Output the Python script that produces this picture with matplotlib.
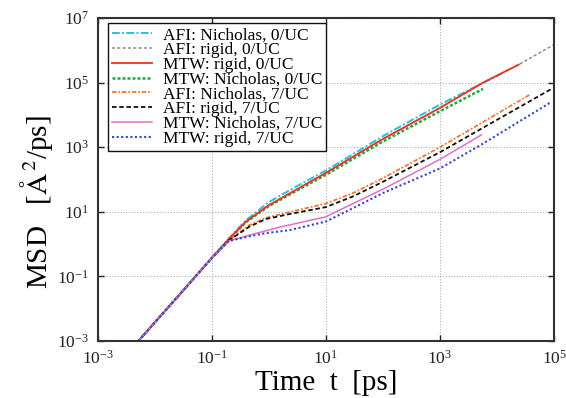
import matplotlib
matplotlib.use("Agg")
import matplotlib.pyplot as plt
from matplotlib.ticker import NullLocator

plt.rcParams['font.family'] = ['Liberation Serif', 'DejaVu Serif']
plt.rcParams['mathtext.fontset'] = 'stix'

# ---- data (time in ps, MSD) ----
t_afi_nich_0 = [0.004, 0.01, 0.03, 0.1, 0.2, 0.4, 1, 3, 10, 100, 1000, 12000]
m_afi_nich_0 = [6e-4, 3.7e-3, 0.033, 0.37, 1.5, 5.5, 20, 60, 190, 2200, 2.1e4, 1.9e5]

t_afi_rigid_0 = [0.004, 0.01, 0.03, 0.1, 0.2, 0.4, 1, 3, 10, 100, 1000, 5700, 24000, 106000]
m_afi_rigid_0 = [6e-4, 3.7e-3, 0.033, 0.37, 1.45, 5, 16, 48, 160, 1800, 1.65e4, 1.0e5, 3.6e5, 1.6e6]

t_mtw_rigid_0 = [0.004, 0.01, 0.03, 0.1, 0.2, 0.4, 1, 3, 10, 100, 1000, 5700, 24000]
m_mtw_rigid_0 = [6e-4, 3.7e-3, 0.033, 0.37, 1.45, 5, 16, 48, 160, 1800, 1.65e4, 1.0e5, 3.6e5]

t_mtw_nich_0 = [0.004, 0.01, 0.03, 0.1, 0.2, 0.4, 1, 3, 10, 100, 1000, 5700]
m_mtw_nich_0 = [6e-4, 3.7e-3, 0.033, 0.37, 1.4, 4.8, 15, 44, 140, 1500, 1.3e4, 6.4e4]

t_afi_nich_7 = [0.004, 0.01, 0.03, 0.1, 0.2, 0.46, 0.9, 2.3, 10, 30, 100, 1000, 39000]
m_afi_nich_7 = [6e-4, 3.7e-3, 0.033, 0.37, 1.3, 3.9, 6.5, 9.8, 18, 38, 110, 1000, 4.4e4]

t_afi_rigid_7 = [0.004, 0.01, 0.03, 0.1, 0.2, 0.46, 0.9, 2.3, 10, 30, 100, 1000, 89000]
m_afi_rigid_7 = [6e-4, 3.7e-3, 0.033, 0.37, 1.3, 3.5, 6.0, 8.5, 14, 30, 85, 700, 6.3e4]

t_mtw_nich_7 = [0.004, 0.01, 0.03, 0.1, 0.2, 0.46, 1.5, 10, 30, 100, 1000, 5300]
m_mtw_nich_7 = [6e-4, 3.7e-3, 0.033, 0.37, 1.25, 1.9, 3.3, 7, 18, 50, 420, 2.4e3]

t_mtw_rigid_7 = [0.004, 0.01, 0.03, 0.1, 0.2, 0.46, 0.9, 2.3, 10, 30, 100, 1000, 5300, 89000]
m_mtw_rigid_7 = [6e-4, 3.7e-3, 0.033, 0.37, 1.25, 1.75, 2.2, 2.7, 5, 13, 38, 220, 1.2e3, 2.5e4]

labels = ["AFI: Nicholas, 0/UC", "AFI: rigid, 0/UC", "MTW: rigid, 0/UC",
          "MTW: Nicholas, 0/UC", "AFI: Nicholas, 7/UC", "AFI: rigid, 7/UC",
          "MTW: Nicholas, 7/UC", "MTW: rigid, 7/UC"]

series = [(t_afi_nich_0, m_afi_nich_0), (t_afi_rigid_0, m_afi_rigid_0),
          (t_mtw_rigid_0, m_mtw_rigid_0), (t_mtw_nich_0, m_mtw_nich_0),
          (t_afi_nich_7, m_afi_nich_7), (t_afi_rigid_7, m_afi_rigid_7),
          (t_mtw_nich_7, m_mtw_nich_7), (t_mtw_rigid_7, m_mtw_rigid_7)]

styles = [
    dict(color='#2cbde0', ls=(0, (4, 1.2, 1, 1.2)), lw=1.4),
    dict(color='#8c8c8c', ls=(0, (2, 1.5)), lw=1.1),
    dict(color='#ee3322', ls='-', lw=1.3),
    dict(color='#22a844', ls=(0, (1.2, 0.8)), lw=1.8),
    dict(color='#f07838', ls=(0, (2.5, 1, 1, 1)), lw=1.3),
    dict(color='#111111', ls=(0, (2.5, 1.5)), lw=1.3),
    dict(color='#e070c8', ls='-', lw=1.1),
    dict(color='#3346cc', ls=(0, (1, 1.2)), lw=1.5),
]

fig = plt.figure(figsize=(5.66, 3.98), dpi=100)
ax = fig.add_axes([0.1724, 0.1432, 0.8066, 0.8116])

order = [1, 0, 3, 2, 4, 5, 6, 7]
handles = [None] * 8
for i in order:
    t, m = series[i]
    h, = ax.plot(t, m, label=labels[i], **styles[i])
    handles[i] = h

ax.set_xscale('log')
ax.set_yscale('log')
ax.set_xlim(1e-3, 1e5)
ax.set_ylim(1e-3, 1e7)
ax.set_xticks([1e-3, 1e-1, 1e1, 1e3, 1e5])
ax.set_yticks([1e-3, 1e-1, 1e1, 1e3, 1e5, 1e7])
ax.xaxis.set_minor_locator(NullLocator())
ax.yaxis.set_minor_locator(NullLocator())

ax.grid(True, which='major', color='#b0b0b0', ls=(0, (1, 1.5)), lw=0.8)
ax.tick_params(direction='in', length=4, width=1, top=True, right=True,
               labelsize=12.5, colors='#222222', pad=6)
for s in ax.spines.values():
    s.set_linewidth(1.5)
    s.set_color('#333333')

ax.set_xlabel(r"Time  t  [ps]", fontsize=21, labelpad=2)
ax.set_ylabel(r"MSD   [$\mathrm{\AA}^{\,2}$/ps]", fontsize=21)
ax.yaxis.set_label_coords(-0.093, 0.43)

leg = ax.legend(handles=handles, labels=labels, loc='upper left',
                bbox_to_anchor=(0.023, 0.985), borderaxespad=0,
                fontsize=12.5, labelspacing=-0.08, handlelength=2.3,
                handletextpad=0.6, borderpad=0.25, fancybox=False,
                framealpha=1, edgecolor='#111111')
leg.get_frame().set_linewidth(1.0)

fig.savefig("out.png", dpi=100)
